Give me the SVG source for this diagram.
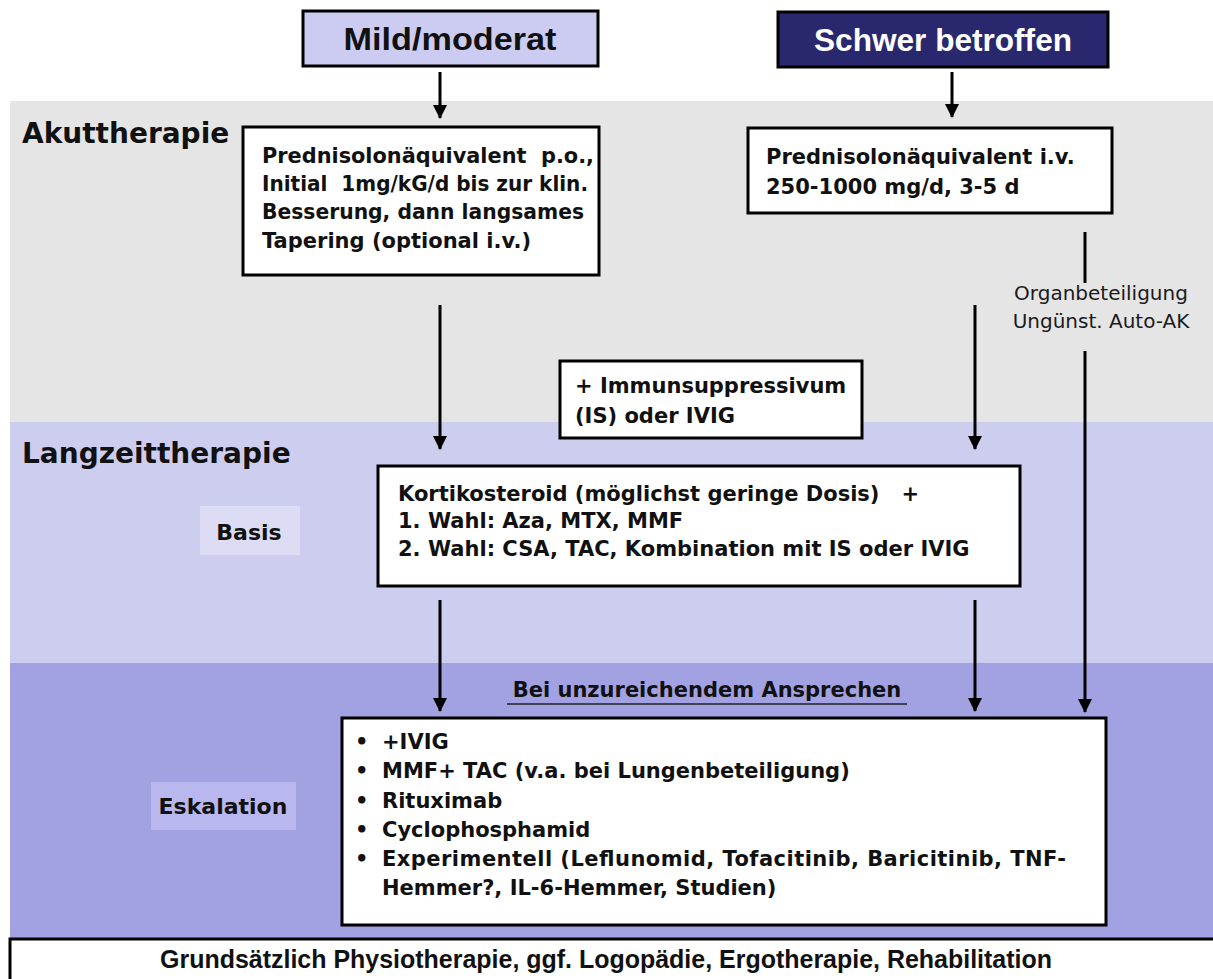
<svg xmlns="http://www.w3.org/2000/svg" width="1213" height="979" viewBox="0 0 1213 979">
<defs>
<marker id="ah" markerUnits="userSpaceOnUse" markerWidth="14" markerHeight="16" refX="13" refY="7" orient="auto">
<path d="M0,0 L14,7 L0,14 Z" fill="#000"/>
</marker>
<style>
.box{fill:#fff;stroke:#000;stroke-width:3}
.t{font-family:"DejaVu Sans",Verdana,sans-serif;font-weight:bold;font-size:21px;fill:#111;white-space:pre}
.h{font-family:"DejaVu Sans",Verdana,sans-serif;font-weight:bold;font-size:28px;fill:#111}
.ttl{font-family:"Liberation Sans",Arial,sans-serif;font-weight:bold;font-size:32px}
.c{stroke:#000;stroke-width:3;fill:none}
.lab{font-family:"DejaVu Sans",Verdana,sans-serif;font-size:20px;fill:#1a1a1a}
</style>
</defs>
<rect x="0" y="0" width="1213" height="979" fill="#fff"/>
<g id="bands">
<rect x="10" y="101" width="1203" height="321" fill="#e5e5e5"/>
<rect x="10" y="422" width="1203" height="241" fill="#cdcdf0"/>
<rect x="10" y="663" width="1203" height="277" fill="#a2a1e2"/>
</g>
<g id="labels">
<text class="h" x="22" y="143">Akuttherapie</text>
<text class="h" x="22" y="463">Langzeittherapie</text>
<rect x="200" y="506" width="100" height="49" fill="#dcdcf5"/>
<text class="t" x="249" y="540" text-anchor="middle" style="font-size:22px">Basis</text>
<rect x="151" y="782" width="145" height="48" fill="#b9b8ee"/>
<text class="t" x="223" y="814" text-anchor="middle" style="font-size:22px">Eskalation</text>
</g>
<g id="mild">
<rect x="303" y="11" width="295" height="55" fill="#ccccf2" stroke="#000" stroke-width="3"/>
<text class="ttl" x="450" y="50" text-anchor="middle" fill="#111" textLength="213" lengthAdjust="spacingAndGlyphs">Mild/moderat</text>
</g>
<g id="schwer">
<rect x="778" y="12" width="330" height="55" fill="#29286e" stroke="#000" stroke-width="3"/>
<text class="ttl" x="943" y="51" text-anchor="middle" fill="#fff" textLength="258" lengthAdjust="spacingAndGlyphs">Schwer betroffen</text>
</g>
<g id="akut-mild">
<rect class="box" x="243" y="127" width="356" height="148"/>
<text class="t" x="262" y="163" xml:space="preserve" textLength="332" lengthAdjust="spacingAndGlyphs">Prednisolonäquivalent  p.o.,</text>
<text class="t" x="262" y="191" xml:space="preserve" textLength="326" lengthAdjust="spacingAndGlyphs">Initial  1mg/kG/d bis zur klin.</text>
<text class="t" x="262" y="219" textLength="322" lengthAdjust="spacingAndGlyphs">Besserung, dann langsames</text>
<text class="t" x="262" y="248">Tapering (optional i.v.)</text>
</g>
<g id="akut-schwer">
<rect class="box" x="748" y="128" width="364" height="85"/>
<text class="t" x="766" y="164">Prednisolonäquivalent i.v.</text>
<text class="t" x="766" y="194">250-1000 mg/d, 3-5 d</text>
</g>
<g id="organ">
<text class="lab" x="1101" y="300" text-anchor="middle">Organbeteiligung</text>
<text class="lab" x="1101" y="328" text-anchor="middle">Ungünst. Auto-AK</text>
</g>
<g id="is">
<rect class="box" x="560" y="361" width="302" height="77"/>
<text class="t" x="575" y="393">+ Immunsuppressivum</text>
<text class="t" x="575" y="423">(IS) oder IVIG</text>
</g>
<g id="basis">
<rect class="box" x="378" y="466" width="642" height="120"/>
<text class="t" x="398" y="501" xml:space="preserve">Kortikosteroid (möglichst geringe Dosis)   +</text>
<text class="t" x="398" y="528">1. Wahl: Aza, MTX, MMF</text>
<text class="t" x="398" y="556">2. Wahl: CSA, TAC, Kombination mit IS oder IVIG</text>
</g>
<g id="hinweis">
<text class="t" x="707" y="697" text-anchor="middle">Bei unzureichendem Ansprechen</text>
<line x1="507" y1="704" x2="907" y2="704" stroke="#222" stroke-width="1.5"/>
</g>
<g id="eskalation">
<rect class="box" x="342" y="718" width="764" height="207"/>
<g class="t">
<text x="355" y="749">•</text><text x="382" y="749">+IVIG</text>
<text x="355" y="778">•</text><text x="382" y="778">MMF+ TAC (v.a. bei Lungenbeteiligung)</text>
<text x="355" y="808">•</text><text x="382" y="808">Rituximab</text>
<text x="355" y="837">•</text><text x="382" y="837">Cyclophosphamid</text>
<text x="355" y="866">•</text><text x="382" y="866" textLength="684" lengthAdjust="spacing">Experimentell (Leflunomid, Tofacitinib, Baricitinib, TNF-</text>
<text x="382" y="895">Hemmer?, IL-6-Hemmer, Studien)</text>
</g>
</g>
<g id="grund">
<rect x="10" y="939" width="1205" height="43" fill="#fff" stroke="#000" stroke-width="3"/>
<text class="ttl" x="606" y="968" text-anchor="middle" style="font-size:25px" fill="#111" textLength="892" lengthAdjust="spacingAndGlyphs">Grundsätzlich Physiotherapie, ggf. Logopädie, Ergotherapie, Rehabilitation</text>
</g>
<g id="connectors">
<line class="c" x1="440" y1="72" x2="440" y2="118" marker-end="url(#ah)"/>
<line class="c" x1="952" y1="72" x2="952" y2="117" marker-end="url(#ah)"/>
<line class="c" x1="440" y1="305" x2="440" y2="449" marker-end="url(#ah)"/>
<line class="c" x1="975" y1="305" x2="975" y2="449" marker-end="url(#ah)"/>
<line class="c" x1="1085" y1="232" x2="1085" y2="283"/>
<line class="c" x1="1085" y1="351" x2="1085" y2="712" marker-end="url(#ah)"/>
<line class="c" x1="440" y1="600" x2="440" y2="711" marker-end="url(#ah)"/>
<line class="c" x1="975" y1="600" x2="975" y2="711" marker-end="url(#ah)"/>
</g>
</svg>
